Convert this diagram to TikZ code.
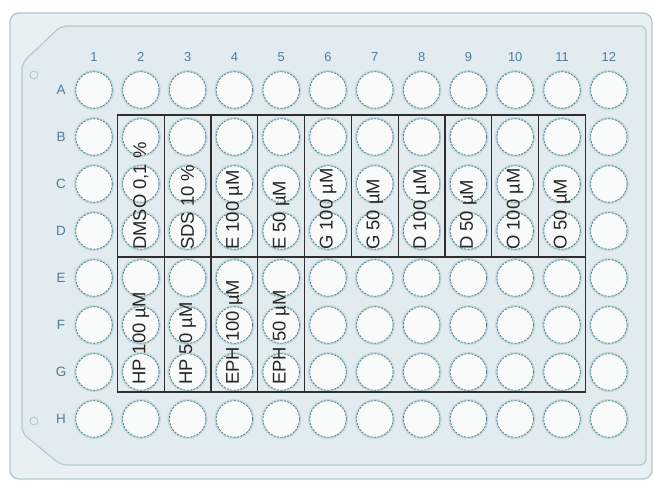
\documentclass[tikz,border=0pt]{standalone}
\usepackage{fontspec}
\setmainfont{Liberation Sans}
\definecolor{plateout}{HTML}{E9F0F3}
\definecolor{plateedge}{HTML}{B4C9D0}
\definecolor{plateinner}{HTML}{E2EBEF}
\definecolor{wellfill}{HTML}{F9FAFA}
\definecolor{wellring}{HTML}{52828D}
\definecolor{wellglow}{HTML}{C4D8DD}
\definecolor{lbl}{HTML}{4E7D99}
\definecolor{gridc}{HTML}{2E2E2E}
\tikzset{
  wellglowst/.style={circle,fill=wellglow,minimum size=40bp,inner sep=0},
  wellst/.style={circle,fill=wellfill,draw=wellring,line width=0.8bp,dash pattern=on 2.2bp off 1.2bp,minimum size=36.5bp,inner sep=0},
  collbl/.style={text=lbl,font=\fontsize{13}{14}\selectfont,inner sep=0},
  rowlbl/.style={text=lbl,font=\fontsize{13.5}{15}\selectfont,inner sep=0},
  sample/.style={rotate=90,anchor=west,inner sep=0,text=black!85,font=\fontsize{18.5}{20}\selectfont},
  gridline/.style={draw=gridc,line width=1.3bp},
}
\begin{document}
\begin{tikzpicture}[x=1bp,y=-1bp]
\useasboundingbox (0,0) rectangle (654,482);
% outer plate
\draw[fill=plateout,draw=plateedge,line width=1.4bp,rounded corners=9bp] (10,13) rectangle (652,479);
% inner frame
\draw[fill=plateinner,draw=plateedge,line width=1.2bp,rounded corners=6bp] (22,63) -- (61,26) -- (646,26) -- (646,465) -- (61,465) -- (22,433) -- cycle;
% markers
\draw[draw=plateedge,line width=0.9bp] (34,75) circle (4bp);
\draw[draw=plateedge,line width=0.9bp] (34,421) circle (4bp);
% column labels
\foreach \c in {1,...,12}{
  \pgfmathsetmacro{\xx}{94+46.8*(\c-1)}
  \node[collbl] (col\c) at (\xx,57) {\c};
}
% row labels and wells
\foreach \r/\L in {1/A,2/B,3/C,4/D,5/E,6/F,7/G,8/H}{
  \pgfmathsetmacro{\yy}{90+47*(\r-1)}
  \node[rowlbl] (row\L) at (61,\yy) {\L};
  \foreach \c in {1,...,12}{
    \pgfmathsetmacro{\xx}{94+46.8*(\c-1)}
    \node[wellglowst] (g\L\c) at (\xx,\yy) {};
    \node[wellst] (w\L\c) at (\xx,\yy) {};
  }
}
% top block grid
\draw[gridline] (117.4,115) rectangle (585.4,257);
\foreach \c in {2,...,10}{
  \pgfmathsetmacro{\xx}{117.4+46.8*(\c-1)}
  \draw[gridline] (\xx,115) -- (\xx,257);
}
% bottom block grid
\draw[gridline] (117.4,257) rectangle (585.4,392);
\foreach \c in {1,...,4}{
  \pgfmathsetmacro{\xx}{117.4+46.8*\c}
  \draw[gridline] (\xx,257) -- (\xx,392);
}
% sample labels top
\foreach \c/\t in {2/{DMSO 0,1 \%},3/{SDS 10 \%},4/{E 100 µM},5/{E 50 µM},6/{G 100 µM},7/{G 50 µM},8/{D 100 µM},9/{D 50 µM},10/{O 100 µM},11/{O 50 µM}}{
  \pgfmathsetmacro{\xx}{94+46.8*(\c-1)}
  \node[sample] (s\c) at (\xx,250) {\t};
}
% sample labels bottom
\foreach \c/\t in {2/{HP 100 µM},3/{HP 50 µM},4/{EPH 100 µM},5/{EPH 50 µM}}{
  \pgfmathsetmacro{\xx}{94+46.8*(\c-1)}
  \node[sample] (b\c) at (\xx,385) {\t};
}
\end{tikzpicture}
\end{document}
